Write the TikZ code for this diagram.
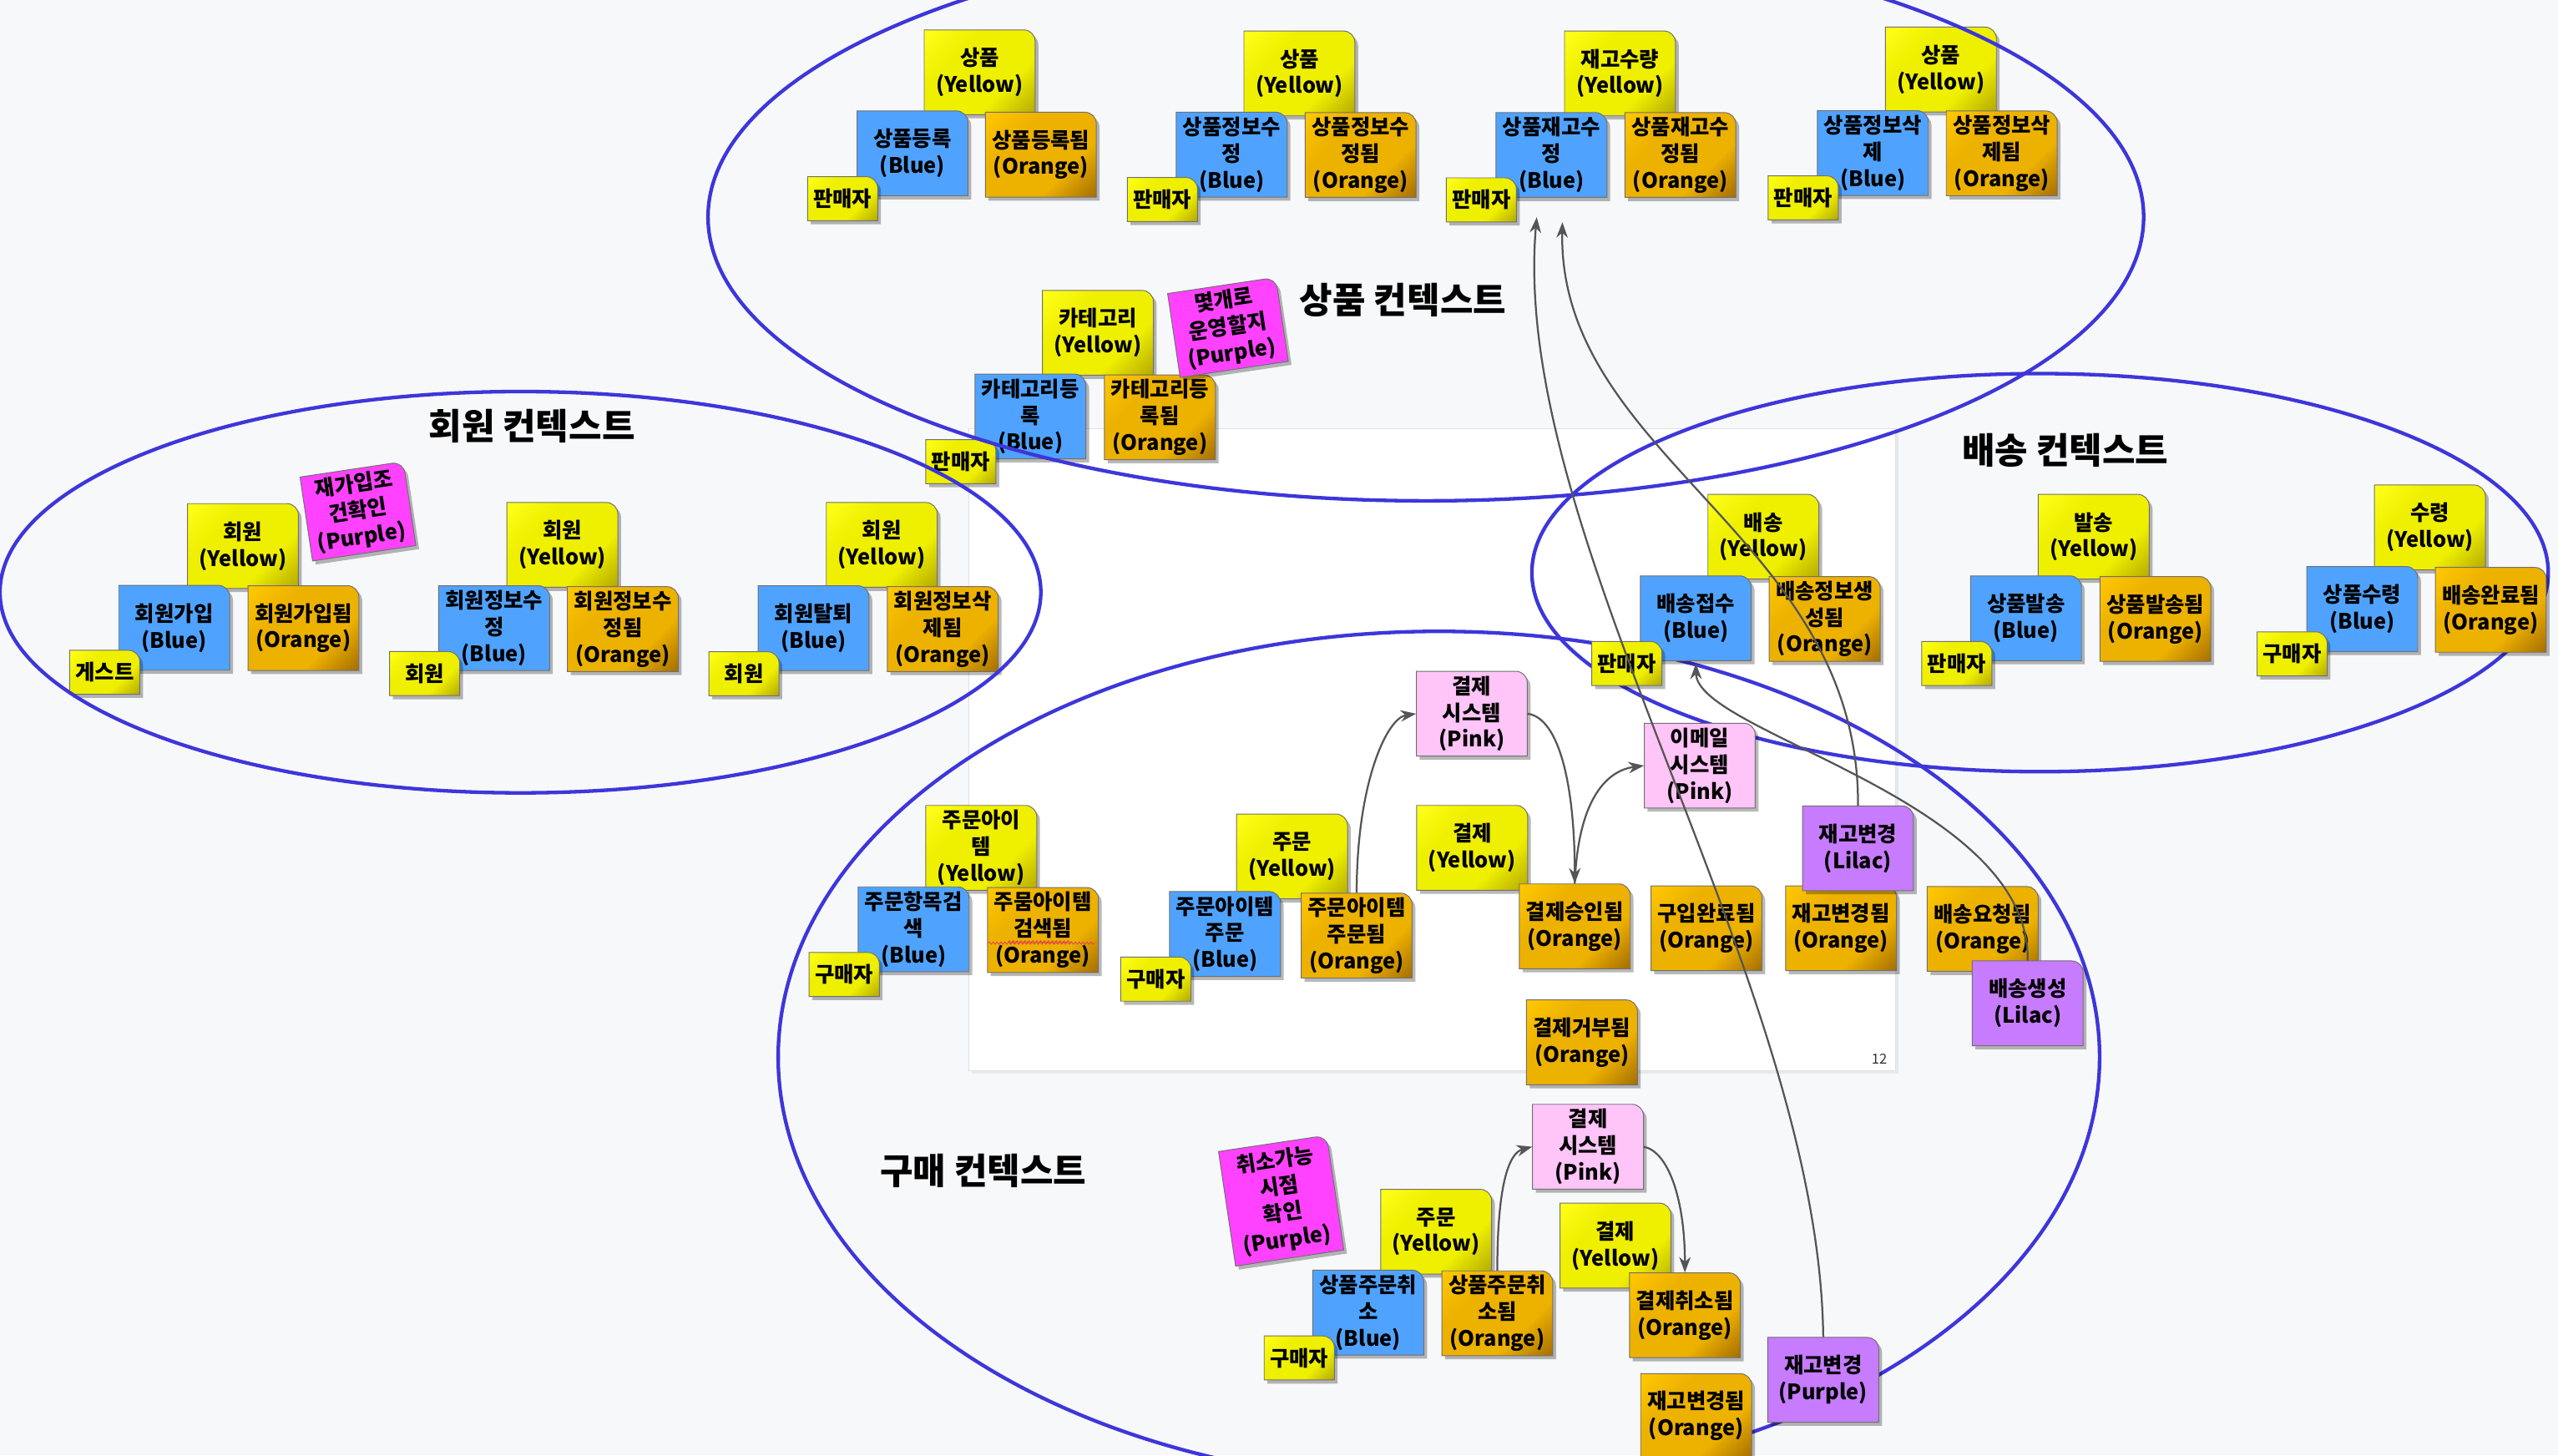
\documentclass[tikz,border=0pt]{standalone}
\usepackage{fontspec}
\setmainfont{Noto Sans CJK KR}
\usetikzlibrary{arrows.meta,shadows,decorations.pathmorphing}

\definecolor{bgcol}{HTML}{F7F8FA}
\definecolor{ctxblue}{HTML}{3D36DA}
\definecolor{arrgray}{HTML}{555555}
\definecolor{yL}{HTML}{FFFF1A}
\definecolor{yM}{HTML}{EFEF00}
\definecolor{yD}{HTML}{B3AA00}
\definecolor{oL}{HTML}{FFC800}
\definecolor{oM}{HTML}{EDB100}
\definecolor{oD}{HTML}{A66F00}
\definecolor{bluC}{HTML}{4FA3FF}
\definecolor{pnkC}{HTML}{FFC4F8}
\definecolor{lilC}{HTML}{C77BFF}
\definecolor{magC}{HTML}{FF42FF}
\definecolor{edgeC}{HTML}{707070}
\definecolor{squig}{HTML}{E04848}

\pgfdeclareverticalshading{yshade}{100bp}{color(0bp)=(yD); color(15bp)=(yD); color(35bp)=(yM); color(65bp)=(yM); color(85bp)=(yL); color(100bp)=(yL)}
\pgfdeclareverticalshading{oshade}{100bp}{color(0bp)=(oD); color(15bp)=(oD); color(35bp)=(oM); color(65bp)=(oM); color(85bp)=(oL); color(100bp)=(oL)}

\tikzset{
  stickbody/.style={draw=edgeC, line width=0.5pt,
    drop shadow={shadow xshift=2pt, shadow yshift=-2.2pt, opacity=0.28, fill=black}},
  sticktext/.style={align=center, inner sep=0pt, text=black,
    font=\fontsize{13}{16.3}\selectfont\bfseries},
  yel/.style={shade, shading=yshade, shading angle=45},
  ora/.style={shade, shading=oshade, shading angle=45},
  blu/.style={fill=bluC},
  pnk/.style={fill=pnkC},
  lil/.style={fill=lilC},
  mag/.style={fill=magC},
  ctxline/.style={draw=ctxblue, line width=2.2pt},
  ctxtitle/.style={inner sep=0pt, text=black, font=\fontsize{22}{26}\selectfont\bfseries},
  arrowflow/.style={draw=arrgray, line width=1.15pt, -{Stealth[length=9.5pt,width=7pt,inset=3pt]}},
  squiggle/.style={draw=squig, line width=0.45pt, decorate,
    decoration={snake, amplitude=0.7pt, segment length=2.4pt}}
}

% #1 scope options, #2 name, #3 x, #4 y, #5 width, #6 height, #7 colour style, #8 text
\newcommand\stk[8][]{%
  \begin{scope}[shift={(#3,#4)},#1]
    \path[stickbody,#7] (-#5/2,#6/2) -- (-#5/2,-#6/2) -- ({#5/2-7},-#6/2)
      arc[start angle=90,end angle=0,radius=7pt] -- (#5/2,#6/2) -- cycle;
    \node[sticktext,minimum width=#5pt,minimum height=#6pt] (#2) at (0,0) {#8};
  \end{scope}}

\begin{document}
\begin{tikzpicture}[x=1pt,y=-1pt]
\useasboundingbox (0,0) rectangle (1568,892);
\fill[bgcol] (0,0) rectangle (1568,892);

% slide
\fill[black,opacity=0.06] (595.5,264.5) rectangle (1163.5,658);
\filldraw[fill=white,draw=black!12,line width=0.5pt] (594,263) rectangle (1162,656.5);
\node[inner sep=0pt,text=black!80,font=\fontsize{8.5}{10}\selectfont] (pageno) at (1152,649) {12};

% contexts behind the notes
\draw[ctxline] (882,648) ellipse [x radius=405, y radius=261];
\draw[ctxline] (1250.5,351) ellipse [x radius=311.5, y radius=122];

% ---------- 상품 컨텍스트 ----------
\stk{pY1}{600.5}{44.3}{68}{52}{yel}{상품\\(Yellow)}
\stk{pB1}{559.3}{94}{68}{52}{blu}{상품등록\\(Blue)}
\stk{pO1}{638}{94.8}{68}{52}{ora}{상품등록됨\\(Orange)}
\stk{pA1}{516.5}{121.8}{43}{27}{yel}{판매자}

\stk{pY2}{796.5}{45}{68}{52}{yel}{상품\\(Yellow)}
\stk{pB2}{755}{94.8}{68}{52}{blu}{상품정보수\\정\\(Blue)}
\stk{pO2}{834}{95}{68}{52}{ora}{상품정보수\\정됨\\(Orange)}
\stk{pA2}{712.5}{122.3}{43}{27}{yel}{판매자}

\stk{pY3}{993}{45}{68}{52}{yel}{재고수량\\(Yellow)}
\stk{pB3}{951}{95}{68}{52}{blu}{상품재고수\\정\\(Blue)}
\stk{pO3}{1030}{95}{68}{52}{ora}{상품재고수\\정됨\\(Orange)}
\stk{pA3}{908}{122.5}{43}{27}{yel}{판매자}

\stk{pY4}{1189.7}{42.6}{68}{52}{yel}{상품\\(Yellow)}
\stk{pB4}{1148}{93.8}{68}{52}{blu}{상품정보삭\\제\\(Blue)}
\stk{pO4}{1227}{94}{68}{52}{ora}{상품정보삭\\제됨\\(Orange)}
\stk{pA4}{1105.3}{121.3}{43}{27}{yel}{판매자}

\stk{cY}{673}{204}{68}{52}{yel}{카테고리\\(Yellow)}
\stk{cB}{631.6}{255.3}{68}{52}{blu}{카테고리등\\록\\(Blue)}
\stk{cO}{711}{255.8}{68}{52}{ora}{카테고리등\\록됨\\(Orange)}
\stk{cA}{589}{283}{43}{27}{yel}{판매자}
\stk[rotate=8.5,transform shape]{cP}{752.7}{200.7}{67}{52}{mag}{몇개로\\운영할지\\(Purple)}

% ---------- 회원 컨텍스트 ----------
\stk{mY1}{148.9}{334.7}{68}{52}{yel}{회원\\(Yellow)}
\stk{mB1}{106.8}{384.8}{68}{52}{blu}{회원가입\\(Blue)}
\stk{mO1}{186}{385}{68}{52}{ora}{회원가입됨\\(Orange)}
\stk{mA1}{64.2}{412.1}{43}{27}{yel}{게스트}
\stk[rotate=8.5,transform shape]{mP}{219.4}{313.4}{64}{52}{mag}{재가입조\\건확인\\(Purple)}

\stk{mY2}{344.7}{334}{68}{52}{yel}{회원\\(Yellow)}
\stk{mB2}{302.9}{385}{68}{52}{blu}{회원정보수\\정\\(Blue)}
\stk{mO2}{381.8}{385.6}{68}{52}{ora}{회원정보수\\정됨\\(Orange)}
\stk{mA2}{260.3}{412.9}{43}{27}{yel}{회원}

\stk{mY3}{540.5}{334}{68}{52}{yel}{회원\\(Yellow)}
\stk{mB3}{498.7}{385}{68}{52}{blu}{회원탈퇴\\(Blue)}
\stk{mO3}{577.9}{385.6}{68}{52}{ora}{회원정보삭\\제됨\\(Orange)}
\stk{mA3}{456}{413}{43}{27}{yel}{회원}

% ---------- 배송 컨텍스트 ----------
\stk{dY1}{1080.9}{329}{68}{52}{yel}{배송\\(Yellow)}
\stk{dB1}{1039.5}{379}{68}{52}{blu}{배송접수\\(Blue)}
\stk{dO1}{1118.5}{379.4}{68}{52}{ora}{배송정보생\\성됨\\(Orange)}
\stk{dA1}{997.2}{406.7}{43}{27}{yel}{판매자}

\stk{dY2}{1283.4}{329}{68}{52}{yel}{발송\\(Yellow)}
\stk{dB2}{1241.9}{379}{68}{52}{blu}{상품발송\\(Blue)}
\stk{dO2}{1321.2}{379.4}{68}{52}{ora}{상품발송됨\\(Orange)}
\stk{dA2}{1199.5}{406.7}{43}{27}{yel}{판매자}

\stk{dY3}{1489.5}{323.3}{68}{52}{yel}{수령\\(Yellow)}
\stk{dB3}{1448}{373.3}{68}{52}{blu}{상품수령\\(Blue)}
\stk{dO3}{1526.8}{373.8}{68}{52}{ora}{배송완료됨\\(Orange)}
\stk{dA3}{1405}{400.8}{43}{27}{yel}{구매자}

% ---------- 구매 컨텍스트 ----------
\stk{oY1}{601.5}{519.7}{68}{52}{yel}{주문아이\\템\\(Yellow)}
\stk{oB1}{560}{569.6}{68}{52}{blu}{주문항목검\\색\\(Blue)}
\stk{oO1}{639.3}{570.1}{68}{52}{ora}{주뭄아이템\\검색됨\\(Orange)}
\stk{oA1}{517.5}{597.3}{43}{27}{yel}{구매자}

\stk{oY2}{792}{525}{68}{52}{yel}{주문\\(Yellow)}
\stk{oB2}{750.9}{572.5}{68}{52}{blu}{주문아이템\\주문\\(Blue)}
\stk{oO2}{831.6}{573.5}{68}{52}{ora}{주문아이템\\주문됨\\(Orange)}
\stk{oA2}{708.5}{600.2}{43}{27}{yel}{구매자}

\stk{payS}{902.2}{437.5}{68}{52}{pnk}{결제\\시스템\\(Pink)}
\stk{payY}{902.4}{519.7}{68}{52}{yel}{결제\\(Yellow)}
\stk{payOK}{965.3}{567.8}{68}{52}{ora}{결제승인됨\\(Orange)}
\stk{payNo}{969.7}{638.9}{68}{52}{ora}{결제거부됨\\(Orange)}
\stk{mail}{1041.9}{469.3}{68}{52}{pnk}{이메일\\시스템\\(Pink)}
\stk{buyDone}{1046}{569}{68}{52}{ora}{구입완료됨\\(Orange)}
\stk{invDone}{1128.5}{569}{68}{52}{ora}{재고변경됨\\(Orange)}
\stk{invLil}{1138.9}{520}{68}{52}{lil}{재고변경\\(Lilac)}
\stk{shipReq}{1215.3}{569.4}{68}{52}{ora}{배송요청됨\\(Orange)}
\stk{shipLil}{1242.9}{615}{68}{52}{lil}{배송생성\\(Lilac)}

% ---------- cancellation ----------
\stk[rotate=8.5,transform shape]{xP}{785.3}{736}{67}{71}{mag}{취소가능\\시점\\확인\\(Purple)}
\stk{xY}{880.3}{755}{68}{52}{yel}{주문\\(Yellow)}
\stk{xB}{838.7}{804.6}{68}{52}{blu}{상품주문취\\소\\(Blue)}
\stk{xO}{917.8}{805}{68}{52}{ora}{상품주문취\\소됨\\(Orange)}
\stk{xA}{796.4}{832.4}{43}{27}{yel}{구매자}
\stk{paySx}{973.4}{702.9}{68}{52}{pnk}{결제\\시스템\\(Pink)}
\stk{payYx}{990.2}{763.5}{68}{52}{yel}{결제\\(Yellow)}
\stk{payCx}{1032.8}{806.2}{68}{52}{ora}{결제취소됨\\(Orange)}
\stk{invDonex}{1039.7}{868}{68}{52}{ora}{재고변경됨\\(Orange)}
\stk{invPur}{1117.6}{845.8}{68}{52}{lil}{재고변경\\(Purple)}

% contexts drawn over the notes
\draw[ctxline] (874,133) ellipse [x radius=440, y radius=174];
\draw[ctxline] (319,363) ellipse [x radius=319, y radius=123];

% titles
\node[ctxtitle] (tProd) at (860,184) {상품 컨텍스트};
\node[ctxtitle] (tMem) at (326,261) {회원 컨텍스트};
\node[ctxtitle] (tShip) at (1266,276) {배송 컨텍스트};
\node[ctxtitle] (tBuy) at (602.7,717.7) {구매 컨텍스트};

% connectors
\draw[arrowflow] (oO2.north) .. controls +(0,-67) and +(-18,2.5) .. (payS.west);
\draw[arrowflow] (payS.east) .. controls +(19,2.5) and +(0,-61.5) .. (payOK.north);
\draw[arrowflow] (payOK.north) .. controls +(2,-51.5) and +(-23,3) .. (mail.west);
\draw[arrowflow] (xO.north) .. controls +(0,-50) and +(-15,4) .. (paySx.west);
\draw[arrowflow] (paySx.east) .. controls +(15,3) and +(0,-45) .. (payCx.north);
\draw[arrowflow,shorten >=12pt] (invPur.north) .. controls +(-2.6,-219.5) and +(-18,209) .. ([xshift=-8pt]pB3.south);
\draw[arrowflow,shorten >=15pt] (invLil.north) .. controls +(1.1,-164) and +(-3,159) .. ([xshift=7pt]pB3.south);
\draw[arrowflow,shorten >=1.5pt] (shipLil.north) .. controls +(2,-99) and +(0.5,44.4) .. (dB1.south);

% spell-check marks
\draw[squiggle] ([xshift=-33.7pt,yshift=-8pt]oO1.center) -- ([xshift=31.7pt,yshift=-8pt]oO1.center);
\draw[squiggle] ([xshift=-21.4pt,yshift=-7.2pt]oO1.center) -- ([xshift=18pt,yshift=-7.2pt]oO1.center);
\end{tikzpicture}
\end{document}
